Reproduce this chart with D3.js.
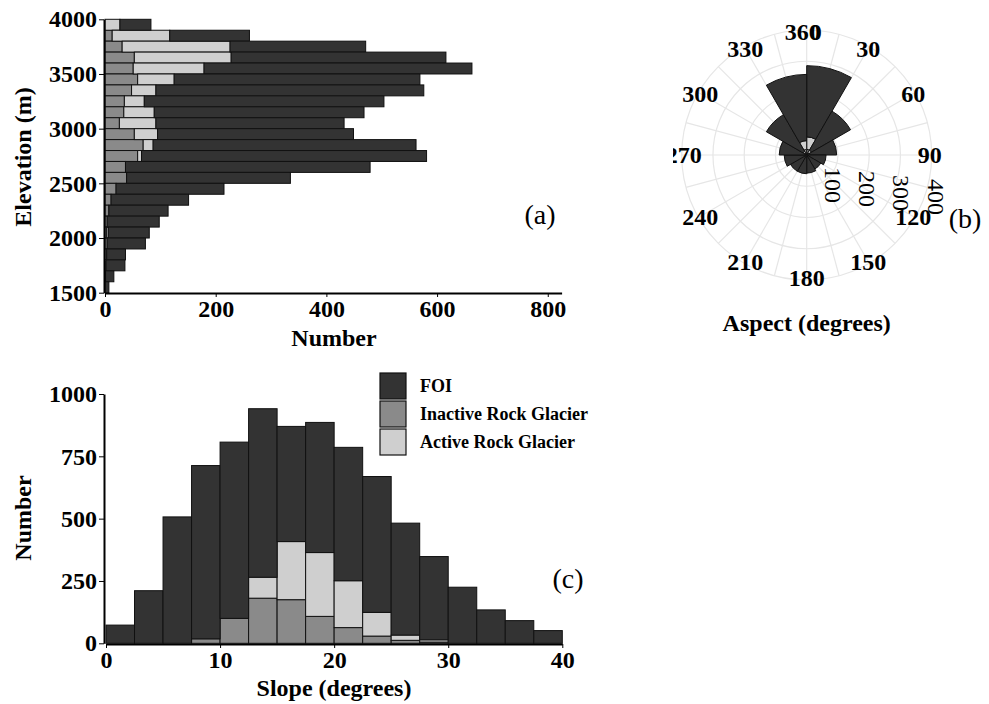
<!DOCTYPE html>
<html>
<head>
<meta charset="utf-8">
<script src="https://cdn.jsdelivr.net/npm/d3@7"></script>
<style>
  body { margin: 0; background: #fff; }
  text { font-family: "Liberation Serif", "Times New Roman", serif; }
</style>
</head>
<body>
<script>
// ---- data ----
// (a) elevation bins, lower edge of each 100 m bin, top to bottom
var elevBins = [3900, 3800, 3700, 3600, 3500, 3400, 3300, 3200, 3100, 3000, 2900, 2800, 2700,
                2600, 2500, 2400, 2300, 2200, 2100, 2000, 1900, 1800, 1700, 1600, 1500]
var elevInactive = [0, 13, 31, 53, 51, 59, 48, 35, 34, 26, 53, 69, 59, 37, 39, 20, 11, 7, 4, 3, 4, 3, 2, 1, 0]
var elevActive = [27, 104, 195, 175, 128, 66, 44, 36, 55, 66, 42, 18, 7, 0, 0, 0, 0, 0, 0, 3, 0, 0, 0, 0, 0]
var elevFOI = [56, 144, 245, 388, 484, 444, 484, 433, 379, 340, 354, 475, 515, 442, 296, 195, 140, 107, 94, 74, 69, 34, 34, 15, 7]
var elevTicks = [1500, 2000, 2500, 3000, 3500, 4000]
var numberTicksA = [0, 200, 400, 600, 800]

// (b) aspect sectors, start angle of each 30 degree sector
var aspectBins = [0, 30, 60, 90, 120, 150, 180, 210, 240, 270, 300, 330]
var aspectInactive = [18, 8, 4, 3, 2, 2, 2, 2, 2, 3, 8, 18]
var aspectActive = [40, 10, 4, 2, 2, 2, 2, 2, 2, 3, 6, 28]
var aspectFOI = [228, 144, 88, 57, 48, 54, 56, 56, 68, 82, 135, 212]
var aspectLabels = [0, 30, 60, 90, 120, 150, 180, 210, 240, 270, 300, 330, 360]
var radialTicks = [100, 200, 300, 400]

// (c) slope bins, lower edge of each 2.5 degree bin
var slopeBins = [0, 2.5, 5, 7.5, 10, 12.5, 15, 17.5, 20, 22.5, 25, 27.5, 30, 32.5, 35, 37.5]
var slopeInactive = [0, 0, 0, 18, 100, 181, 175, 108, 63, 29, 12, 5, 0, 0, 0, 0]
var slopeActive = [0, 0, 0, 0, 0, 84, 233, 256, 188, 95, 21, 9, 0, 0, 0, 0]
var slopeFOI = [73, 211, 507, 695, 707, 676, 462, 522, 535, 545, 449, 334, 225, 134, 91, 51]
var slopeTicks = [0, 10, 20, 30, 40]
var numberTicksC = [0, 250, 500, 750, 1000]

var keys = ["inactive", "active", "foi"]
var legendNames = ["FOI", "Inactive Rock Glacier", "Active Rock Glacier"]
var colors = {foi: "#333333", inactive: "#8a8a8a", active: "#cfcfcf"}

var svg = d3.select("body").append("svg").attr("width", 989).attr("height", 704)
var stack = d3.stack().keys(keys)
var fmt = d3.format("d")

function styleAxis(g) {
  g.selectAll("text").style("font-size", "24px").style("font-weight", "bold").attr("fill", "#000")
    .style("font-family", "'Liberation Serif', serif")
  g.select(".domain").attr("stroke", "#000").attr("stroke-width", 2)
  g.selectAll(".tick line").attr("stroke", "#000")
}

// ---- (a) elevation ----
var rowsA = elevBins.map(function(b, i) {
  return {bin: b, inactive: elevInactive[i], active: elevActive[i], foi: elevFOI[i]}
})
var xA = d3.scaleLinear().domain([0, 825]).range([105, 561.6])
var yA = d3.scaleLinear().domain([1500, 4000]).range([292.7, 19.3])

var gA = svg.append("g")
gA.selectAll("g.layer").data(stack(rowsA)).join("g")
  .attr("fill", function(s) { return colors[s.key] })
  .selectAll("rect").data(function(s) { return s.filter(function(d) { return d[1] > d[0] }) }).join("rect")
  .attr("x", function(d) { return xA(d[0]) })
  .attr("width", function(d) { return xA(d[1]) - xA(d[0]) })
  .attr("y", function(d) { return yA(d.data.bin + 100) })
  .attr("height", function(d) { return yA(d.data.bin) - yA(d.data.bin + 100) })
  .attr("stroke", "#111")
  .attr("stroke-width", 1)

gA.append("g").attr("transform", "translate(0,293)")
  .call(d3.axisBottom(xA).tickValues(numberTicksA).tickFormat(fmt).tickSize(4).tickPadding(3).tickSizeOuter(0))
  .call(styleAxis)
gA.append("g").attr("transform", "translate(104,0)")
  .call(d3.axisLeft(yA).tickValues(elevTicks).tickFormat(fmt).tickSize(5).tickPadding(2).tickSizeOuter(0))
  .call(styleAxis)

gA.append("text").attr("x", 334).attr("y", 346).attr("text-anchor", "middle")
  .style("font-size", "24px").style("font-weight", "bold").text("Number")
gA.append("text").attr("transform", "translate(31,157) rotate(-90)").attr("text-anchor", "middle")
  .style("font-size", "24px").style("font-weight", "bold").text("Elevation (m)")
gA.append("text").attr("x", 540).attr("y", 224).attr("text-anchor", "middle")
  .style("font-size", "28px").text("(a)")

// ---- (b) aspect rose ----
var cx = 806.7, cy = 155
var rB = d3.scaleLinear().domain([0, 400]).range([0, 125])
svg.append("defs").append("clipPath").attr("id", "clipB")
  .append("rect").attr("x", 673).attr("y", 0).attr("width", 316).attr("height", 360)
var gB = svg.append("g").attr("clip-path", "url(#clipB)")
var pB = gB.append("g").attr("transform", "translate(" + cx + "," + cy + ")")

pB.selectAll("circle.grid").data(radialTicks).join("circle")
  .attr("r", function(d) { return rB(d) })
  .attr("fill", "none").attr("stroke", "#e6e6e6").attr("stroke-width", 1.2)
pB.selectAll("line.spoke").data(d3.range(0, 360, 15)).join("line")
  .attr("x1", 0).attr("y1", 0)
  .attr("x2", function(a) { return rB(400) * Math.sin(a * Math.PI / 180) })
  .attr("y2", function(a) { return -rB(400) * Math.cos(a * Math.PI / 180) })
  .attr("stroke", "#e6e6e6").attr("stroke-width", 1.2)

var rowsB = aspectBins.map(function(b, i) {
  return {bin: b, inactive: aspectInactive[i], active: aspectActive[i], foi: aspectFOI[i]}
})
var arc = d3.arc()
pB.selectAll("g.layer").data(stack(rowsB)).join("g")
  .attr("fill", function(s) { return colors[s.key] })
  .selectAll("path").data(function(s) { return s }).join("path")
  .attr("d", function(d) {
    return arc({innerRadius: rB(d[0]), outerRadius: rB(d[1]),
                startAngle: d.data.bin * Math.PI / 180, endAngle: (d.data.bin + 30) * Math.PI / 180})
  })
  .attr("stroke", "#111").attr("stroke-width", 1)

// "0" and "360" share the north position and overlap, as in the original
pB.selectAll("text.ang").data(aspectLabels).join("text")
  .attr("x", function(a) {
    var shift = a === 0 ? 9 : (a === 360 ? -4 : 0)
    return 123 * Math.sin(a * Math.PI / 180) + shift
  })
  .attr("y", function(a) { return -123 * Math.cos(a * Math.PI / 180) })
  .attr("dy", "0.35em").attr("text-anchor", "middle")
  .style("font-size", "24px").style("font-weight", "bold").text(function(a) { return a })

pB.selectAll("text.rad").data(radialTicks).join("text")
  .attr("transform", function(v) {
    return "translate(" + (rB(v) * 1.1 - 8) + "," + (26 + v * 0.04) + ") rotate(90)"
  })
  .attr("dy", "0.35em").attr("text-anchor", "middle")
  .style("font-size", "24px").text(function(v) { return v })

svg.append("text").attr("x", 965).attr("y", 228).attr("text-anchor", "middle")
  .style("font-size", "28px").text("(b)")
svg.append("text").attr("x", 806.7).attr("y", 331).attr("text-anchor", "middle")
  .style("font-size", "24px").style("font-weight", "bold").text("Aspect (degrees)")

// ---- (c) slope ----
var rowsC = slopeBins.map(function(b, i) {
  return {bin: b, inactive: slopeInactive[i], active: slopeActive[i], foi: slopeFOI[i]}
})
var xC = d3.scaleLinear().domain([0, 40]).range([106, 562.3])
var yC = d3.scaleLinear().domain([0, 1000]).range([643.3, 394])

var gC = svg.append("g")
gC.selectAll("g.layer").data(stack(rowsC)).join("g")
  .attr("fill", function(s) { return colors[s.key] })
  .selectAll("rect").data(function(s) { return s.filter(function(d) { return d[1] > d[0] }) }).join("rect")
  .attr("x", function(d) { return xC(d.data.bin) })
  .attr("width", function(d) { return xC(d.data.bin + 2.5) - xC(d.data.bin) })
  .attr("y", function(d) { return yC(d[1]) })
  .attr("height", function(d) { return yC(d[0]) - yC(d[1]) })
  .attr("stroke", "#111")
  .attr("stroke-width", 1)

gC.append("g").attr("transform", "translate(0,644)")
  .call(d3.axisBottom(xC).tickValues(slopeTicks).tickFormat(fmt).tickSize(4).tickPadding(3).tickSizeOuter(0))
  .call(styleAxis)
gC.append("g").attr("transform", "translate(104,0)")
  .call(d3.axisLeft(yC).tickValues(numberTicksC).tickFormat(fmt).tickSize(5).tickPadding(2).tickSizeOuter(0))
  .call(styleAxis)

gC.append("text").attr("x", 334).attr("y", 696).attr("text-anchor", "middle")
  .style("font-size", "24px").style("font-weight", "bold").text("Slope (degrees)")
gC.append("text").attr("transform", "translate(31,518) rotate(-90)").attr("text-anchor", "middle")
  .style("font-size", "24px").style("font-weight", "bold").text("Number")
gC.append("text").attr("x", 568).attr("y", 588).attr("text-anchor", "middle")
  .style("font-size", "28px").text("(c)")

// legend
var legKeys = ["foi", "inactive", "active"]
var leg = gC.selectAll("g.leg").data(legKeys).join("g")
  .attr("transform", function(k, i) { return "translate(380," + (373 + i * 28) + ")" })
leg.append("rect").attr("width", 26).attr("height", 26)
  .attr("fill", function(k) { return colors[k] }).attr("stroke", "#111").attr("stroke-width", 1.2)
leg.append("text").attr("x", 40).attr("y", 13).attr("dy", "0.35em")
  .style("font-size", "18px").style("font-weight", "bold")
  .text(function(k, i) { return legendNames[i] })
</script>
</body>
</html>
